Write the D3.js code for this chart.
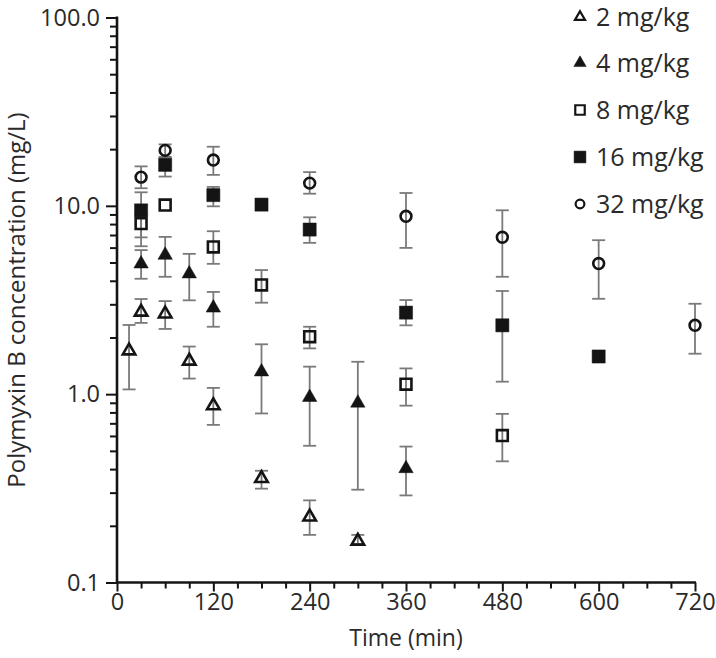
<!DOCTYPE html>
<html>
<head>
<meta charset="utf-8">
<script src="https://cdn.jsdelivr.net/npm/d3@7"></script>
<style>
  html, body { margin: 0; padding: 0; background: #fff; }
  svg { display: block; }
  text { font-family: "Open Sans", "DejaVu Sans", sans-serif; fill: #2a2a2a; }
</style>
</head>
<body>
<svg id="chart" width="716" height="658"></svg>
<script>
// ---- Data ----
const doseLabels = ["2 mg/kg", "4 mg/kg", "8 mg/kg", "16 mg/kg", "32 mg/kg"];

const time2  = [15, 30, 60, 90, 120, 180, 240, 300];
const mean2  = [1.70, 2.73, 2.67, 1.50, 0.87, 0.357, 0.223, 0.166];
const hi2    = [2.33, 3.20, 3.12, 1.79, 1.08, 0.392, 0.273, 0.179];
const lo2    = [1.06, 2.39, 2.22, 1.21, 0.687, 0.315, 0.179, 0.160];

const time4  = [30, 60, 90, 120, 180, 240, 300, 360];
const mean4  = [4.92, 5.47, 4.36, 2.87, 1.315, 0.962, 0.898, 0.403];
const hi4    = [5.82, 6.84, 5.56, 3.49, 1.84, 1.40, 1.486, 0.527];
const lo4    = [4.10, 4.20, 3.15, 2.28, 0.79, 0.532, 0.311, 0.29];

const time8  = [30, 60, 120, 180, 240, 360, 480];
const mean8  = [8.05, 10.1, 6.05, 3.80, 2.02, 1.13, 0.603];
const hi8    = [9.0, 10.1, 7.33, 4.56, 2.28, 1.37, 0.786];
const lo8    = [6.1, 10.1, 4.92, 3.06, 1.75, 0.869, 0.44];

const time16 = [30, 60, 120, 180, 240, 360, 480, 600];
const mean16 = [9.46, 16.5, 11.4, 10.15, 7.48, 2.71, 2.32, 1.585];
const hi16   = [11.8, 18.0, 12.6, 10.15, 8.69, 3.16, 3.53, 1.585];
const lo16   = [6.8, 14.3, 9.94, 10.15, 6.36, 2.32, 1.165, 1.585];

const time32 = [30, 60, 120, 240, 360, 480, 600, 720];
const mean32 = [14.2, 19.7, 17.5, 13.2, 8.80, 6.81, 4.94, 2.32];
const hi32   = [16.2, 21.2, 20.6, 15.1, 11.7, 9.47, 6.57, 3.02];
const lo32   = [12.4, 18.2, 14.6, 11.6, 5.98, 4.20, 3.21, 1.64];

const xTickValues = [0, 120, 240, 360, 480, 600, 720];
const yTickValues = [0.1, 1, 10, 100];
const yTickLabels = ["0.1", "1.0", "10.0", "100.0"];

// ---- Series build ----
const seriesList = [
  { name: doseLabels[0], t: time2,  m: mean2,  hi: hi2,  lo: lo2,  shape: "triangle", filled: false },
  { name: doseLabels[1], t: time4,  m: mean4,  hi: hi4,  lo: lo4,  shape: "triangle", filled: true  },
  { name: doseLabels[2], t: time8,  m: mean8,  hi: hi8,  lo: lo8,  shape: "square",   filled: false },
  { name: doseLabels[3], t: time16, m: mean16, hi: hi16, lo: lo16, shape: "square",   filled: true  },
  { name: doseLabels[4], t: time32, m: mean32, hi: hi32, lo: lo32, shape: "circle",   filled: false }
];

const svg = d3.select("#chart");
const pLeft = 117, pRight = 695, pTop = 17.5, pBottom = 582.5;

const x = d3.scaleLinear().domain([0, 720]).range([pLeft, pRight]);
const y = d3.scaleLog().domain([0.1, 100]).range([pBottom, pTop]);

const ink = "#141414";
const barColor = "#7a7a7a";

// ---- Axes ----
const yMinor = [];
[0.1, 1, 10].forEach(d => { for (let k = 2; k <= 9; k++) yMinor.push(+(d * k).toPrecision(3)); });
svg.append("g")
  .attr("transform", `translate(${pLeft},0)`)
  .call(d3.axisLeft(y).tickValues(yMinor).tickSize(7).tickFormat(""))
  .call(g => g.select(".domain").remove())
  .call(g => g.selectAll("line").attr("stroke", ink).attr("stroke-width", 2));

svg.append("g")
  .attr("transform", `translate(${pLeft},0)`)
  .call(d3.axisLeft(y).tickValues(yTickValues).tickSize(11).tickPadding(6)
        .tickFormat((d, i) => yTickLabels[i]))
  .call(g => g.select(".domain").remove())
  .call(g => g.selectAll("line").attr("stroke", ink).attr("stroke-width", 2))
  .call(g => g.selectAll("text").attr("font-size", 23.5).attr("fill", "#2a2a2a")
        .attr("font-family", "'Open Sans', sans-serif"));

const xMinor = d3.range(30, 720, 30).filter(d => d % 120 !== 0);
svg.append("g")
  .attr("transform", `translate(0,${pBottom})`)
  .call(d3.axisBottom(x).tickValues(xMinor).tickSize(6).tickFormat(""))
  .call(g => g.select(".domain").remove())
  .call(g => g.selectAll("line").attr("stroke", ink).attr("stroke-width", 2));

svg.append("g")
  .attr("transform", `translate(0,${pBottom})`)
  .call(d3.axisBottom(x).tickValues(xTickValues).tickSize(9).tickPadding(2)
        .tickFormat(d3.format("d")))
  .call(g => g.select(".domain").remove())
  .call(g => g.selectAll("line").attr("stroke", ink).attr("stroke-width", 2))
  .call(g => g.selectAll("text").attr("font-size", 23.5).attr("fill", "#2a2a2a")
        .attr("font-family", "'Open Sans', sans-serif"));

svg.append("line").attr("x1", pLeft).attr("x2", pLeft).attr("y1", pTop - 1).attr("y2", pBottom + 1)
  .attr("stroke", ink).attr("stroke-width", 2.6);
svg.append("line").attr("x1", pLeft - 1).attr("x2", pRight + 1).attr("y1", pBottom).attr("y2", pBottom)
  .attr("stroke", ink).attr("stroke-width", 2.6);

svg.append("text")
  .attr("x", (pLeft + pRight) / 2).attr("y", 646)
  .attr("text-anchor", "middle").attr("font-size", 23)
  .text("Time (min)");

svg.append("text")
  .attr("transform", `translate(25,${(pTop + pBottom) / 2}) rotate(-90)`)
  .attr("text-anchor", "middle").attr("font-size", 24)
  .text("Polymyxin B concentration (mg/L)");

// ---- Error bars ----
const capHalf = 6.5;
const bars = svg.append("g");
seriesList.forEach(s => {
  s.t.forEach((t, i) => {
    if (s.hi[i] === s.lo[i]) return;
    const cx = x(t), yh = y(s.hi[i]), yl = y(s.lo[i]);
    const g = bars.append("g").attr("stroke", barColor).attr("stroke-width", 1.8).attr("fill", "none");
    g.append("line").attr("x1", cx).attr("x2", cx).attr("y1", yh).attr("y2", yl);
    g.append("line").attr("x1", cx - capHalf).attr("x2", cx + capHalf).attr("y1", yh).attr("y2", yh);
    g.append("line").attr("x1", cx - capHalf).attr("x2", cx + capHalf).attr("y1", yl).attr("y2", yl);
  });
});

// ---- Markers ----
function symbolFor(shape, filled, legend) {
  let type, size;
  if (shape === "triangle") { type = d3.symbolTriangle; size = legend ? (filled ? 66 : 44) : (filled ? 90 : 68); }
  else if (shape === "square") { type = d3.symbolSquare; size = legend ? (filled ? 140 : 90) : (filled ? 172 : 118); }
  else { type = d3.symbolCircle; size = legend ? 60 : 92; }
  return d3.symbol().type(type).size(size)();
}

const marks = svg.append("g");
seriesList.forEach(s => {
  marks.append("g").selectAll("path")
    .data(s.t.map((t, i) => ({ t, v: s.m[i] })))
    .join("path")
    .attr("transform", d => `translate(${x(d.t)},${y(d.v)})`)
    .attr("d", symbolFor(s.shape, s.filled, false))
    .attr("fill", s.filled ? ink : "none")
    .attr("stroke", ink)
    .attr("stroke-width", s.filled ? 0.5 : 2.6);
});

// ---- Legend ----
const legend = svg.append("g");
const legBase = [26, 72, 119, 166, 213];
seriesList.forEach((s, i) => {
  const g = legend.append("g").attr("transform", `translate(0,${legBase[i]})`);
  g.append("path")
    .attr("transform", `translate(580,-9)`)
    .attr("d", symbolFor(s.shape, s.filled, true))
    .attr("fill", s.filled ? ink : "none")
    .attr("stroke", ink)
    .attr("stroke-width", s.filled ? 0.5 : 2.2);
  g.append("text").attr("x", 596).attr("y", 0).attr("font-size", 25).text(s.name);
});
</script>
</body>
</html>
